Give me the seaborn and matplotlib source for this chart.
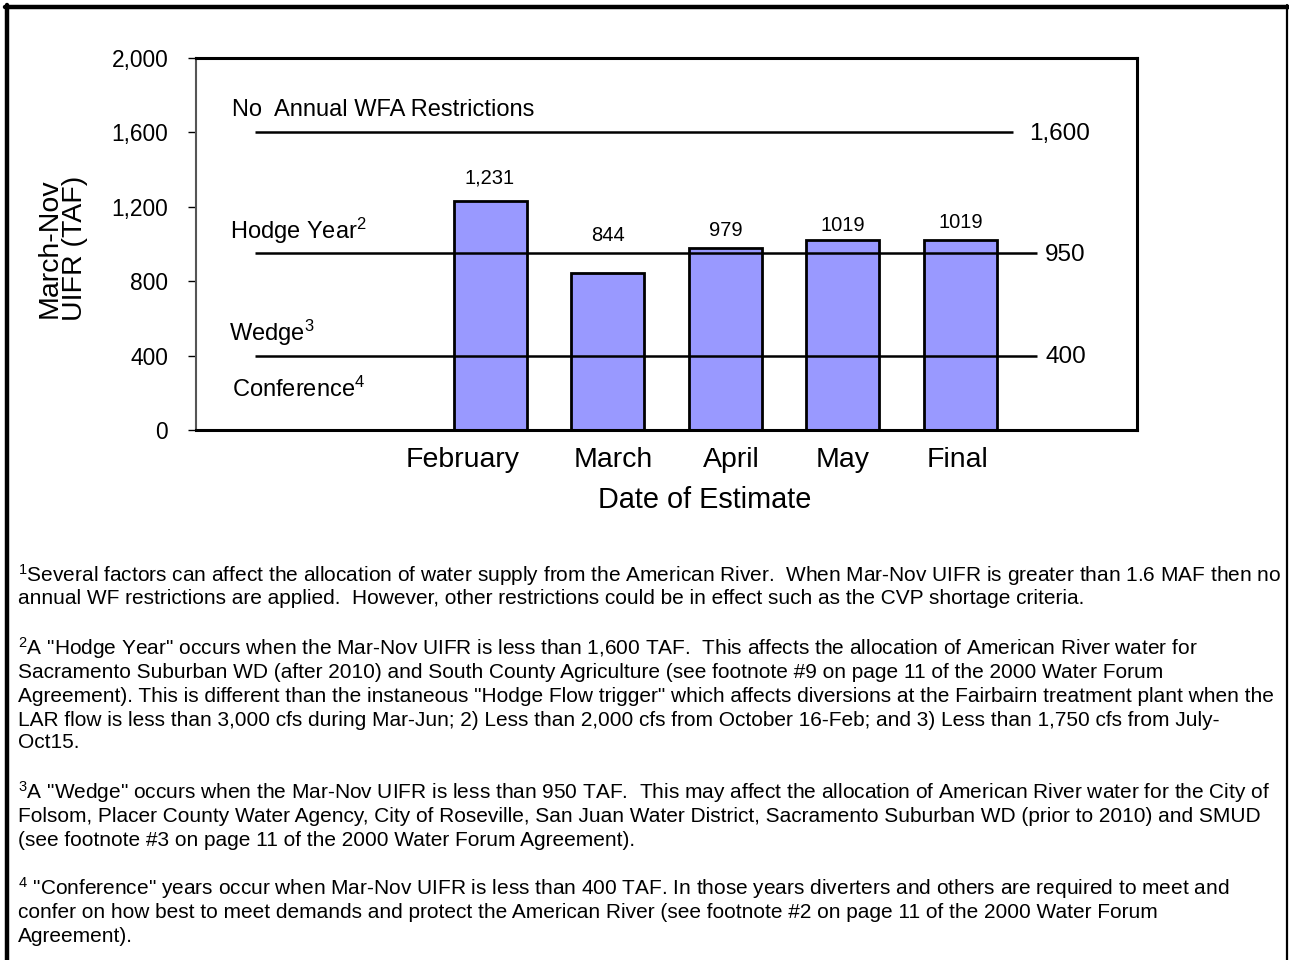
import matplotlib
matplotlib.use("Agg")
import matplotlib.pyplot as plt
import matplotlib.transforms as mtrans
import seaborn as sns
import pandas as pd
from matplotlib.lines import Line2D

# ---- data ----
months = ["February", "March", "April", "May", "Final"]
uifr = [1231, 844, 979, 1019, 1019]
value_labels = ["1,231", "844", "979", "1019", "1019"]
slot_order = ["_pad1", "_pad2", "February", "March", "April", "May", "Final", "_pad3"]
threshold_values = [1600, 950, 400]
threshold_labels = ["1,600", "950", "400"]
yticks = [0, 400, 800, 1200, 1600, 2000]
ytick_labels = ["0", "400", "800", "1,200", "1,600", "2,000"]

footnotes = [
    ["$^{1}$Several factors can affect the allocation of water supply from the American River.  When Mar-Nov UIFR is greater than 1.6 MAF then no",
     "annual WF restrictions are applied.  However, other restrictions could be in effect such as the CVP shortage criteria."],
    ['$^{2}$A "Hodge Year" occurs when the Mar-Nov UIFR is less than 1,600 TAF.  This affects the allocation of American River water for',
     "Sacramento Suburban WD (after 2010) and South County Agriculture (see footnote #9 on page 11 of the 2000 Water Forum",
     'Agreement). This is different than the instaneous "Hodge Flow trigger" which affects diversions at the Fairbairn treatment plant when the',
     "LAR flow is less than 3,000 cfs during Mar-Jun; 2) Less than 2,000 cfs from October 16-Feb; and 3) Less than 1,750 cfs from July-",
     "Oct15."],
    ['$^{3}$A "Wedge" occurs when the Mar-Nov UIFR is less than 950 TAF.  This may affect the allocation of American River water for the City of',
     "Folsom, Placer County Water Agency, City of Roseville, San Juan Water District, Sacramento Suburban WD (prior to 2010) and SMUD",
     "(see footnote #3 on page 11 of the 2000 Water Forum Agreement)."],
    ['$^{4}$ "Conference" years occur when Mar-Nov UIFR is less than 400 TAF. In those years diverters and others are required to meet and',
     "confer on how best to meet demands and protect the American River (see footnote #2 on page 11 of the 2000 Water Forum",
     "Agreement)."],
]

sns.set_theme(style="white")
plt.rcParams["font.family"] = ["Liberation Sans", "DejaVu Sans"]
plt.rcParams["mathtext.fontset"] = "custom"
plt.rcParams["mathtext.rm"] = "Liberation Sans"
plt.rcParams["mathtext.it"] = "Liberation Sans"
plt.rcParams["mathtext.bf"] = "Liberation Sans"
plt.rcParams["text.color"] = "black"
plt.rcParams["axes.labelcolor"] = "black"
plt.rcParams["xtick.color"] = "black"
plt.rcParams["ytick.color"] = "black"

W, H = 1289, 960
fig = plt.figure(figsize=(W / 100, H / 100), dpi=100)
ax = fig.add_axes([196 / W, 1 - 430 / H, (1137 - 196) / W, (430 - 58) / H])

df = pd.DataFrame({"month": months, "uifr": uifr})
sns.barplot(data=df, x="month", y="uifr", order=slot_order, color="#9999FF",
            saturation=1, width=0.62, edgecolor="black", linewidth=2.0, ax=ax, zorder=2)

# threshold lines
line_ends = [6.45, 6.65, 6.65]
label_gaps = [0.13, 0.07, 0.07]
for val, lab, xe, g in zip(threshold_values, threshold_labels, line_ends, label_gaps):
    ax.plot([0, xe], [val, val], color="black", lw=1.8, zorder=3, solid_capstyle="butt")
    ax.text(xe + g, val - 8, lab, fontsize=17.5, va="center", ha="left")

# value labels (Excel placed them at slightly varying heights)
label_offsets = [124, 204, 96, 78, 94]
for m, v, lab, off in zip(months, uifr, value_labels, label_offsets):
    ax.text(slot_order.index(m), v + off, lab, fontsize=14.5, ha="center", va="center")

# in-plot annotations
ax.text(-0.19, 1720, "No  Annual WFA Restrictions", fontsize=17, va="center", ha="left")
ax.text(-0.21, 1070, r"Hodge Year$^{2}$", fontsize=17, va="center", ha="left")
ax.text(-0.22, 520, r"Wedge$^{3}$", fontsize=17, va="center", ha="left")
ax.text(-0.19, 220, r"Conference$^{4}$", fontsize=17, va="center", ha="left")

ax.set_ylim(0, 2000)
ax.set_xlim(-0.5, 7.5)
ax.set_yticks(yticks)
ax.set_yticklabels(ytick_labels, fontsize=16.4)
ax.set_xticks(range(len(slot_order)))
ax.set_xticklabels([s if not s.startswith("_") else "" for s in slot_order], fontsize=20.5)
ax.tick_params(axis="y", length=6, width=1, direction="out", left=True, pad=14)
ax.tick_params(axis="x", length=0, pad=12)
# Excel shifted some category labels slightly
shifts = {"February": -27, "March": 6, "April": 6, "Final": -3}
for tl in ax.get_xticklabels():
    s = shifts.get(tl.get_text(), 0)
    if s:
        tl.set_transform(tl.get_transform() + mtrans.ScaledTranslation(s / 100, 0, fig.dpi_scale_trans))
ax.set_xlabel("Date of Estimate", fontsize=20.8)
ax.xaxis.set_label_coords((705 - 196) / (1137 - 196), -(500 - 430) / (430 - 58), transform=ax.transAxes)
ax.xaxis.label.set_va("center")
ax.set_ylabel("March-Nov\nUIFR (TAF)", fontsize=20.5, linespacing=0.95)
ax.yaxis.set_label_coords(-(196 - 62) / (1137 - 196), (430 - 248) / (430 - 58), transform=ax.transAxes)
ax.yaxis.label.set_va("center")
for side, sp in ax.spines.items():
    sp.set_visible(True)
    sp.set_color("black")
    sp.set_linewidth(2.2)
ax.spines["left"].set_color("#555555")
ax.spines["left"].set_linewidth(1.5)
ax.grid(False)

# footnotes
ys = [[575, 599], [648, 672, 696, 720, 743], [792, 816, 840], [888, 912, 936]]
for block, yb in zip(footnotes, ys):
    for line, y in zip(block, yb):
        fig.text(18 / W, 1 - y / H, line, fontsize=15, ha="left", va="center")

# outer frame
fig.add_artist(Line2D([5 / W, 1], [1 - 6.5 / H, 1 - 6.5 / H], color="black", lw=3.2, transform=fig.transFigure))
fig.add_artist(Line2D([6.5 / W, 6.5 / W], [0, 1 - 5 / H], color="black", lw=3.2, transform=fig.transFigure))
fig.add_artist(Line2D([1286.5 / W, 1286.5 / W], [0, 1 - 5 / H], color="black", lw=1.6, transform=fig.transFigure))

fig.savefig("out.png", dpi=100, facecolor="white")
